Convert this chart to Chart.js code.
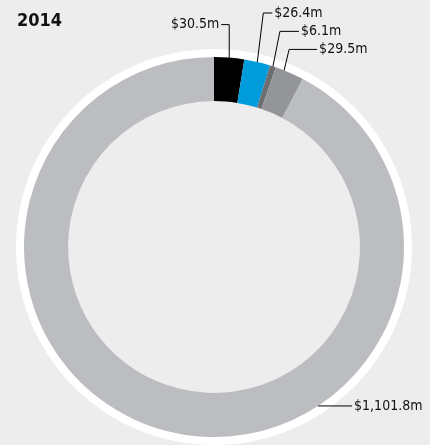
<!DOCTYPE html>
<html>
<head>
<meta charset="utf-8">
<script src="https://cdn.jsdelivr.net/npm/chart.js@4"></script>
<style>
  html, body { margin: 0; padding: 0; background: #ededed; }
  #wrap { position: relative; width: 430px; height: 445px; }
  #title { position: absolute; left: 17px; top: 9px; font: bold 18px "Liberation Sans Narrow", "DejaVu Sans Condensed", sans-serif; color: #111; }
</style>
</head>
<body>
<div id="wrap">
  <canvas id="chart" width="430" height="445"></canvas>
  <div id="title">2014</div>
</div>
<script>
// data
const labels = ["A", "B", "C", "D", "E"];
const values = [30.5, 26.4, 6.1, 29.5, 1101.8];
const valueLabels = ["$30.5m", "$26.4m", "$6.1m", "$29.5m", "$1,101.8m"];
const colors = ["#000000", "#009bdb", "#6d6e71", "#939598", "#bcbdc0"];

// leader line layout: where on the slice, elbow offset, horizontal run
const leaders = [
  { frac: 0.5, ex: 0, ey: -33, len: -8, align: "right" },
  { frac: 0.5, ex: 6, ey: -49, len: 9, align: "left" },
  { frac: 0.5, ex: 7, ey: -35, len: 19, align: "left" },
  { frac: 0.3, ex: 5, ey: -21, len: 28, align: "left" },
  { frac: 0.358, ex: 0, ey: 0, len: 34, align: "left" },
];

const labelFont = '14px "Liberation Sans Narrow", "DejaVu Sans Condensed", sans-serif';

const ringPlugin = {
  id: "ring",
  beforeDatasetsDraw(chart) {
    const arc = chart.getDatasetMeta(0).data[0];
    const ctx = chart.ctx;
    ctx.save();
    ctx.fillStyle = "#ffffff";
    ctx.beginPath();
    ctx.arc(arc.x, arc.y, arc.outerRadius + 8, 0, Math.PI * 2);
    ctx.arc(arc.x, arc.y, arc.innerRadius + 1, 0, Math.PI * 2, true);
    ctx.fill();
    ctx.restore();
  },
  afterDatasetsDraw(chart) {
    const ctx = chart.ctx;
    const arcs = chart.getDatasetMeta(0).data;
    ctx.save();
    ctx.strokeStyle = "#000";
    ctx.lineWidth = 1;
    ctx.font = labelFont;
    ctx.fillStyle = "#111";
    ctx.textBaseline = "middle";
    arcs.forEach((a, i) => {
      const L = leaders[i];
      const ang = a.startAngle + (a.endAngle - a.startAngle) * L.frac;
      const r = a.outerRadius;
      const ax = a.x + Math.cos(ang) * r;
      const ay = a.y + Math.sin(ang) * r;
      const bx = ax + L.ex;
      const by = ay + L.ey;
      const cx = bx + L.len;
      ctx.beginPath();
      ctx.moveTo(ax, ay);
      ctx.lineTo(bx, by);
      ctx.lineTo(cx, by);
      ctx.stroke();
      ctx.textAlign = L.align;
      ctx.fillText(valueLabels[i], L.align === "left" ? cx + 2 : cx - 2, by);
    });
    ctx.restore();
  }
};

new Chart(document.getElementById("chart"), {
  type: "doughnut",
  data: {
    labels: labels,
    datasets: [{
      data: values,
      backgroundColor: colors,
      borderWidth: 0,
    }],
  },
  options: {
    responsive: false,
    animation: false,
    cutout: "76.8%",
    layout: { padding: { left: 24, right: 26, top: 57, bottom: 8 } },
    plugins: {
      legend: { display: false },
      tooltip: { enabled: false },
    },
  },
  plugins: [ringPlugin],
});
</script>
</body>
</html>
